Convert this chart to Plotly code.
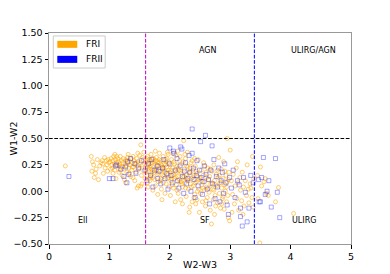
import plotly.graph_objects as go

# FRI sources (W2-W3, W1-W2)
fri_x = [0.27,0.70,0.72,0.74,0.71,0.77,0.82,0.88,0.90,0.95,0.80,0.84,0.86,0.92,0.93,0.96,0.98,0.78,0.89,0.97,0.75,0.99,
 1.01,1.03,1.04,1.05,1.06,1.07,1.08,1.09,1.10,1.11,1.12,1.13,1.14,1.15,1.16,1.17,1.18,1.19,1.20,1.21,1.22,1.23,1.24,1.25,1.26,1.27,1.28,1.29,1.30,1.31,1.32,1.33,1.34,1.35,1.36,1.37,1.38,1.39,1.40,1.41,1.42,1.43,1.44,1.45,1.46,1.47,1.48,1.49,1.50,1.51,1.52,1.53,1.54,1.55,1.56,1.57,1.58,1.59,
 1.02,1.06,1.12,1.18,1.22,1.28,1.33,1.38,1.44,1.50,1.55,1.27,1.46,1.52,1.39,1.16,1.09,1.31,1.47,1.57,
 1.60,1.61,1.62,1.63,1.64,1.65,1.66,1.67,1.68,1.69,1.70,1.71,1.72,1.73,1.74,1.75,1.76,1.77,1.78,1.79,1.80,1.81,1.82,1.83,1.84,1.85,1.86,1.87,1.88,1.89,1.90,1.91,1.92,1.93,1.94,1.95,1.96,1.97,1.98,1.99,
 1.61,1.63,1.65,1.67,1.69,1.71,1.73,1.75,1.77,1.79,1.81,1.83,1.85,1.87,1.89,1.91,1.93,1.95,1.97,1.99,
 1.62,1.66,1.70,1.74,1.78,1.82,1.86,1.90,1.94,1.98,1.64,1.72,1.80,1.88,1.96,1.76,1.68,1.84,1.92,1.66,
 2.00,2.01,2.02,2.03,2.04,2.05,2.06,2.07,2.08,2.09,2.10,2.11,2.12,2.13,2.14,2.15,2.16,2.17,2.18,2.19,2.20,2.21,2.22,2.23,2.24,2.25,2.26,2.27,2.28,2.29,2.30,2.31,2.32,2.33,2.34,2.35,2.36,2.37,2.38,2.39,2.40,2.41,2.42,2.43,2.44,2.45,2.46,2.47,2.48,2.49,
 2.02,2.04,2.06,2.08,2.10,2.12,2.14,2.16,2.18,2.20,2.22,2.24,2.26,2.28,2.30,2.32,2.34,2.36,2.38,2.40,2.42,2.44,2.46,2.48,2.01,2.09,2.17,2.25,2.33,2.41,2.05,2.13,2.21,2.29,2.37,2.45,2.03,2.11,2.19,2.27,
 2.50,2.51,2.52,2.53,2.54,2.55,2.56,2.57,2.58,2.59,2.60,2.61,2.62,2.63,2.64,2.65,2.66,2.67,2.68,2.69,2.70,2.71,2.72,2.73,2.74,2.75,2.76,2.77,2.78,2.79,2.80,2.81,2.82,2.83,2.84,2.85,2.86,2.87,2.88,2.89,2.90,2.91,2.92,2.93,2.94,2.95,2.96,2.97,2.98,2.99,
 2.52,2.55,2.58,2.61,2.64,2.67,2.70,2.73,2.76,2.79,2.82,2.85,2.88,2.91,2.94,2.97,2.95,2.60,2.74,2.86,
 3.00,3.02,3.04,3.05,3.07,3.08,3.10,3.11,3.13,3.14,3.16,3.17,3.19,3.20,3.22,3.23,3.25,3.27,3.28,3.30,3.31,3.33,3.34,3.36,3.37,3.38,3.39,3.03,3.12,3.21,
 3.45,3.49,3.52,3.56,3.60,3.63,3.58,3.75,3.80,4.05,3.46,3.50]
fri_y = [0.24,0.33,0.28,0.25,0.19,0.17,0.11,0.29,0.17,0.29,0.30,0.24,0.27,0.32,0.22,0.25,0.30,0.21,0.26,0.19,0.13,0.27,
 0.28,0.31,0.25,0.22,0.29,0.33,0.26,0.20,0.30,0.12,0.27,0.24,0.31,0.28,0.18,0.26,0.33,0.23,0.29,0.15,0.27,0.31,0.21,0.11,0.26,0.30,0.24,0.18,0.32,0.27,0.22,0.29,0.25,0.14,0.31,0.20,0.27,0.33,0.23,0.29,0.10,0.26,0.18,0.31,0.24,0.28,0.05,0.21,0.34,0.27,0.44,0.15,0.07,0.25,0.30,0.19,0.26,0.12,
 0.21,0.17,0.33,0.20,0.23,0.29,0.17,0.23,0.27,0.22,0.32,0.08,0.03,0.05,0.13,0.24,0.35,0.35,0.36,0.37,
 0.22,0.28,0.15,0.33,0.25,0.19,0.30,0.10,0.24,0.35,0.21,0.27,0.13,0.31,0.18,0.26,0.05,0.22,0.32,0.16,0.28,0.09,0.24,0.36,0.19,0.29,0.02,-0.08,0.21,0.33,0.14,0.26,0.18,0.30,0.07,0.23,0.12,0.35,0.20,0.27,
 0.18,0.08,0.27,0.23,0.14,0.31,0.20,0.11,0.29,0.24,0.17,0.27,0.12,0.23,0.08,0.19,0.25,0.31,0.16,0.04,
 0.31,0.21,0.16,0.28,0.20,0.30,0.25,0.22,0.28,0.13,0.04,0.01,-0.03,0.15,0.37,0.38,0.29,0.10,-0.02,0.12,
 0.18,0.25,0.10,0.30,0.15,0.22,0.03,0.28,0.12,0.19,0.34,0.06,0.24,0.14,-0.02,0.20,0.29,0.09,-0.08,0.17,0.26,0.04,0.13,0.48,0.21,0.08,0.31,-0.05,0.16,0.11,0.23,0.02,-0.20,0.18,0.07,0.27,0.12,-0.10,0.20,0.05,0.15,-0.03,0.24,-0.12,0.09,0.17,0.00,0.30,0.11,-0.20,
 0.20,0.06,0.16,0.26,0.13,0.01,0.22,0.11,0.19,0.07,0.28,0.14,0.03,0.24,0.10,0.17,0.22,0.04,0.13,-0.06,0.08,0.19,0.14,0.02,-0.04,-0.10,0.33,0.35,-0.15,0.31,0.36,0.38,-0.12,0.37,0.29,-0.08,0.12,0.18,0.09,0.12,
 0.12,-0.02,0.20,0.06,-0.10,0.15,0.27,0.01,0.09,-0.14,0.18,0.04,-0.06,0.22,0.11,-0.01,0.14,-0.18,0.07,-0.31,0.19,0.02,-0.08,0.25,0.10,-0.04,-0.14,0.16,0.05,-0.11,0.13,0.32,-0.02,0.08,-0.16,0.21,0.03,-0.07,0.12,0.28,-0.17,0.06,0.00,0.15,-0.10,0.09,-0.04,-0.25,0.18,-0.28,
 0.10,0.03,0.24,0.13,0.03,0.21,0.08,0.01,0.06,0.20,0.15,0.08,-0.05,0.19,0.04,0.11,0.50,-0.09,-0.22,-0.12,
 0.39,0.10,-0.03,0.16,-0.12,0.05,0.22,-0.07,0.08,-0.18,0.13,0.01,-0.09,0.18,0.04,-0.14,0.10,-0.04,0.25,0.02,-0.11,0.07,0.03,-0.06,0.33,-0.15,0.12,-0.20,0.28,-0.22,
 0.15,-0.49,0.05,0.09,-0.02,-0.04,0.12,-0.10,0.035,-0.21,-0.07,0.23]

# FRII sources
frii_x = [0.33,1.00,1.06,1.10,1.12,1.19,1.24,1.27,1.29,1.30,1.32,1.35,1.42,1.44,1.48,1.53,
 1.59,1.62,1.65,1.68,1.70,1.72,1.75,1.79,1.80,1.82,1.85,1.88,1.90,1.92,1.95,1.97,1.99,
 2.00,2.02,2.04,2.06,2.07,2.09,2.12,2.13,2.15,2.17,2.18,2.20,2.21,2.23,2.24,2.26,2.28,2.30,2.32,2.33,2.35,2.37,2.37,2.39,2.40,2.42,2.44,2.45,2.47,2.49,
 2.51,2.52,2.54,2.55,2.57,2.59,2.60,2.62,2.64,2.66,2.68,2.70,2.71,2.73,2.75,2.77,2.79,2.81,2.83,2.85,2.87,2.89,2.91,2.93,2.95,2.97,2.99,
 3.02,3.05,3.08,3.12,3.15,3.17,3.17,3.20,3.22,3.25,3.28,3.31,3.34,3.38,
 3.47,3.48,3.50,3.55,3.61,3.64,3.68,3.75,3.78,3.82,3.52,3.58]
frii_y = [0.14,0.12,0.12,0.24,0.25,0.21,0.14,0.23,0.08,0.28,0.16,0.31,0.26,0.17,0.22,0.29,
 0.20,0.10,0.26,0.15,0.30,0.04,0.20,0.24,0.12,0.19,0.07,0.22,0.30,0.12,0.17,0.02,0.26,
 0.41,0.15,0.08,0.38,0.36,0.20,0.31,0.10,0.03,0.24,0.42,0.40,0.14,-0.02,0.19,0.27,0.07,0.12,0.34,0.18,0.00,0.36,0.59,0.22,0.11,-0.06,0.15,0.29,0.05,0.20,
 0.47,0.13,-0.03,0.09,0.24,0.53,0.16,0.02,0.11,-0.12,0.20,0.43,0.07,0.30,-0.07,0.14,0.04,0.22,-0.10,0.10,0.18,-0.02,0.26,0.08,-0.13,-0.22,0.13,
 0.03,0.20,-0.06,0.10,0.06,-0.16,-0.24,-0.33,0.13,-0.01,-0.29,-0.16,0.15,0.08,
 0.11,-0.10,-0.10,0.32,0.00,0.10,-0.15,0.31,-0.01,-0.25,0.13,-0.03]

series_names = ["FRI", "FRII"]
series_colors = ["orange", "blue"]

region_labels = ["AGN", "ULIRG/AGN", "Ell", "SF", "ULIRG"]
region_x = [2.64, 4.38, 0.57, 2.59, 4.22]
region_y = [1.33, 1.33, -0.28, -0.28, -0.28]

x_ticks = [0, 1, 2, 3, 4, 5]
y_ticks = [-0.5, -0.25, 0.0, 0.25, 0.5, 0.75, 1.0, 1.25, 1.5]

font = "DejaVu Sans"
fig = go.Figure()
fig.add_trace(go.Scatter(x=fri_x, y=fri_y, mode="markers", name=series_names[0], showlegend=False,
                         marker=dict(symbol="circle-open", size=4, color=series_colors[0],
                                     line=dict(width=1, color=series_colors[0]), opacity=0.55)))
fig.add_trace(go.Scatter(x=frii_x, y=frii_y, mode="markers", name=series_names[1], showlegend=False,
                         marker=dict(symbol="square-open", size=4, color=series_colors[1],
                                     line=dict(width=1, color=series_colors[1]), opacity=0.35)))

dash = "3.7px,1.6px"
fig.add_hline(y=0.5, line=dict(color="black", width=1, dash=dash))
fig.add_vline(x=1.6, line=dict(color="#bf00bf", width=1, dash=dash))
fig.add_vline(x=3.4, line=dict(color="blue", width=1, dash=dash))

for t, x, y in zip(region_labels, region_x, region_y):
    fig.add_annotation(x=x, y=y, text=t, showarrow=False,
                       font=dict(family=font, size=8, color="black"))

# legend box (matplotlib-style patches)
fig.add_shape(type="rect", xref="paper", yref="paper", x0=0.0142, x1=0.186, y0=0.834, y1=0.986,
              line=dict(color="#cccccc", width=1), fillcolor="rgba(255,255,255,0.8)", layer="above")
patch_y = [(0.9297, 0.9629), (0.8584, 0.8917)]
for (y0, y1), name, col in zip(patch_y, series_names, series_colors):
    fig.add_shape(type="rect", xref="paper", yref="paper", x0=0.0275, x1=0.0936, y0=y0, y1=y1,
                  line=dict(width=0), fillcolor=col, layer="above")
    fig.add_annotation(xref="paper", yref="paper", x=0.1168, y=(y0 + y1) / 2, text=name,
                       xanchor="left", yanchor="middle", showarrow=False,
                       font=dict(family=font, size=9, color="black"))

axis_common = dict(showline=True, mirror=True, linecolor="#999999", linewidth=1,
                   ticks="outside", ticklen=3.5, tickcolor="black", tickwidth=1,
                   showgrid=False, zeroline=False, automargin=False,
                   tickfont=dict(family=font, size=9.5, color="black"))
fig.update_xaxes(range=[0, 5], tickvals=x_ticks,
                 title=dict(text="W2-W3", font=dict(family=font, size=9.5, color="black"), standoff=0),
                 **axis_common)
fig.update_yaxes(range=[-0.5, 1.5], tickvals=y_ticks, tickformat=".2f",
                 title=dict(text="W1-W2", font=dict(family=font, size=9.5, color="black"), standoff=5),
                 **axis_common)

# page body has an 8px margin, so the figure is sized to fill the rest of the window
fig.update_layout(width=382, height=266, margin=dict(l=41, r=39, t=25, b=30),
                  plot_bgcolor="white", paper_bgcolor="white", showlegend=False,
                  font=dict(family=font, size=9.5, color="black"))
fig.write_html("out.html")
